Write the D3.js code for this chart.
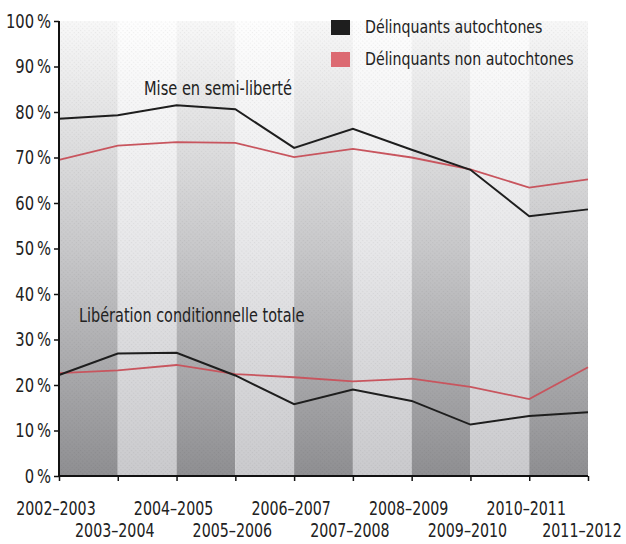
<!DOCTYPE html>
<html><head><meta charset="utf-8">
<script src="https://cdn.jsdelivr.net/npm/d3@7"></script>
<style>
html,body{margin:0;padding:0;background:#fff;}
svg text{font-family:"DejaVu Sans Condensed","DejaVu Sans",sans-serif;fill:#222;}
</style></head>
<body>
<svg id="chart" width="626" height="544"></svg>
<script>
const categories = ["2002–2003","2003–2004","2004–2005","2005–2006","2006–2007","2007–2008","2008–2009","2009–2010","2010–2011","2011–2012"];
const semiAutochtones    = [78.5, 79.3, 81.5, 80.6, 72.1, 76.3, 71.7, 67.3, 57.1, 58.6];
const semiNonAutochtones = [69.5, 72.6, 73.4, 73.2, 70.1, 71.9, 70.0, 67.4, 63.4, 65.2];
const libAutochtones     = [22.2, 26.9, 27.1, 22.1, 15.8, 19.0, 16.5, 11.3, 13.2, 14.0];
const libNonAutochtones  = [22.6, 23.2, 24.4, 22.4, 21.7, 20.8, 21.4, 19.6, 16.9, 23.9];
const yTicks = [0,10,20,30,40,50,60,70,80,90,100];
const legendLabels = ["Délinquants autochtones","Délinquants non autochtones"];
const seriesColors = ["#1e1e1e","#c8555e"];
const legendColors = ["#1e1e1e","#dc6a72"];

const svg = d3.select("#chart");
const x0 = 59, x1 = 588, yTop = 21, yBot = 476;
const x = d3.scalePoint().domain(categories).range([x0, x1]);
const y = d3.scaleLinear().domain([0,100]).range([yBot, yTop]);

// horizontally condense text with a transform (narrow font look)
function squeeze(sel, f){
  sel.each(function(){
    const t = d3.select(this);
    const tx = +t.attr("x") || 0, ty = +t.attr("y") || 0;
    t.attr("x", 0).attr("y", 0).attr("transform", `translate(${tx},${ty}) scale(${f},1)`);
  });
}

const defs = svg.append("defs");
function grad(id, stops){
  const g = defs.append("linearGradient").attr("id", id)
    .attr("gradientUnits","userSpaceOnUse").attr("x1",0).attr("x2",0).attr("y1",yTop).attr("y2",yBot);
  stops.forEach(s => g.append("stop").attr("offset", s[0]).attr("stop-color", s[1]));
}
grad("gDark", [[0,"#f8f8f8"],[0.5,"#c8c8ca"],[1,"#8f8f92"]]);
grad("gLight", [[0,"#fefefe"],[0.5,"#e7e7e9"],[1,"#cacacd"]]);
const pat = defs.append("pattern").attr("id","dots").attr("width",3).attr("height",3)
  .attr("patternUnits","userSpaceOnUse").attr("patternTransform","rotate(45)");
pat.append("rect").attr("width",1.2).attr("height",1.2).attr("fill","#000").attr("opacity",0.06);

const bands = categories.slice(0,-1).map((c,i)=>({a:c,b:categories[i+1],i}));
svg.append("g").selectAll("rect").data(bands).join("rect")
  .attr("x", d=>x(d.a)).attr("width", d=>x(d.b)-x(d.a))
  .attr("y", yTop).attr("height", yBot-yTop)
  .attr("fill", d=> d.i%2===0 ? "url(#gDark)" : "url(#gLight)");
svg.append("rect").attr("x",x0).attr("y",yTop).attr("width",x1-x0).attr("height",yBot-yTop)
  .attr("fill","url(#dots)");

const line = d3.line().x((d,i)=>x(categories[i])).y(d=>y(d));
const series = [
  {v:semiNonAutochtones,c:seriesColors[1]},
  {v:libNonAutochtones,c:seriesColors[1]},
  {v:semiAutochtones,c:seriesColors[0]},
  {v:libAutochtones,c:seriesColors[0]}
];
svg.append("g").selectAll("path").data(series).join("path")
  .attr("d", d=>line(d.v)).attr("fill","none").attr("stroke", d=>d.c)
  .attr("stroke-width", d=> d.c===seriesColors[0] ? 2 : 1.8);

const yAxis = svg.append("g").attr("transform",`translate(${x0},0)`)
  .call(d3.axisLeft(y).tickValues(yTicks).tickSize(5).tickPadding(3).tickFormat(d=>d+"\u2009%"));
yAxis.select(".domain").attr("stroke","#111").attr("stroke-width",2).attr("d",`M0,${yTop}V${yBot}`);
yAxis.selectAll(".tick line").attr("stroke","#111").attr("stroke-width",1.5);
yAxis.selectAll(".tick text").attr("font-size",20).attr("fill","#222")
  .style("font-family",'"DejaVu Sans Condensed",sans-serif');
squeeze(yAxis.selectAll(".tick text"), 0.82);

const xAxis = svg.append("g").attr("transform",`translate(0,${yBot})`)
  .call(d3.axisBottom(x).tickSize(5).tickFormat(""));
xAxis.select(".domain").attr("stroke","#111").attr("stroke-width",2).attr("d",`M${x0},0H${x1}`);
xAxis.selectAll(".tick line").attr("stroke","#111").attr("stroke-width",1.5);

const xl = svg.append("g").selectAll("text").data(categories).join("text")
  .attr("x", d=>Math.min(x(d)-3, 582)).attr("y",(d,i)=> i%2===0 ? 515 : 537)
  .attr("text-anchor","middle").attr("font-size",20).text(d=>d);
squeeze(xl, 0.79);

const a1 = svg.append("text").attr("x",144).attr("y",95).attr("font-size",19).text("Mise en semi-liberté");
const a2 = svg.append("text").attr("x",79).attr("y",322).attr("font-size",19).text("Libération conditionnelle totale");
squeeze(a1, 0.855); squeeze(a2, 0.846);

const lg = svg.append("g").selectAll("g").data(legendLabels).join("g")
  .attr("transform",(d,i)=>`translate(331,${20+i*32})`);
lg.append("rect").attr("width",19).attr("height",15).attr("fill",(d,i)=>legendColors[i]);
const lt = lg.append("text").attr("x",34).attr("y",13).attr("font-size",18).text(d=>d);
squeeze(lt, 0.875);
</script>
</body></html>
